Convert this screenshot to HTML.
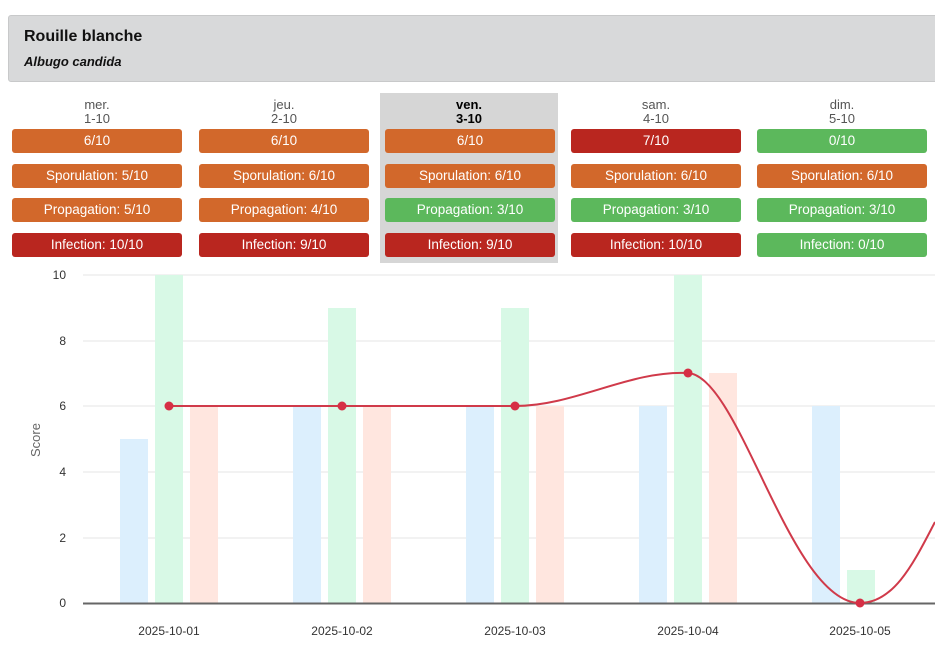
<!DOCTYPE html><html><head><style>
body{margin:0;width:935px;height:648px;overflow:hidden;background:#fff;font-family:"Liberation Sans",Arial,sans-serif;position:relative}
.hdr{position:absolute;left:8px;top:15px;width:940px;height:65px;background:#d8d9da;border:1px solid #c8c9ca;border-radius:3px}
.hdr b{position:absolute;left:15px;top:12px;font-size:16px;color:#111}
.hdr i{position:absolute;left:15px;top:38px;font-size:13px;font-weight:bold;color:#111}
.col{position:absolute;top:93px;width:178px;height:170px}
.col.sel{background:#d6d6d6}
.d{text-align:center;font-size:13px;color:#555;line-height:14px;margin-top:5px}
.sel .d{color:#000;font-weight:bold}
.bd{position:absolute;left:4px;width:170px;height:24px;border-radius:3px;color:#fff;font-size:13.5px;text-align:center;line-height:24px}
.o{background:#d2682b}.r{background:#b9261f}.g{background:#5cb85c}
</style></head><body>
<div class="hdr"><b>Rouille blanche</b><i>Albugo candida</i></div>
<div class="col" style="left:8px"><div class="d">mer.<br>1-10</div>
<div class="bd o" style="top:36px">6/10</div><div class="bd o" style="top:71px">Sporulation: 5/10</div><div class="bd o" style="top:105px">Propagation: 5/10</div><div class="bd r" style="top:140px">Infection: 10/10</div></div>
<div class="col" style="left:195px"><div class="d">jeu.<br>2-10</div>
<div class="bd o" style="top:36px">6/10</div><div class="bd o" style="top:71px">Sporulation: 6/10</div><div class="bd o" style="top:105px">Propagation: 4/10</div><div class="bd r" style="top:140px">Infection: 9/10</div></div>
<div class="col sel" style="left:380px"><div class="d">ven.<br>3-10</div>
<div class="bd o" style="top:36px;left:5px">6/10</div><div class="bd o" style="top:71px;left:5px">Sporulation: 6/10</div><div class="bd g" style="top:105px;left:5px">Propagation: 3/10</div><div class="bd r" style="top:140px;left:5px">Infection: 9/10</div></div>
<div class="col" style="left:567px"><div class="d">sam.<br>4-10</div>
<div class="bd r" style="top:36px">7/10</div><div class="bd o" style="top:71px">Sporulation: 6/10</div><div class="bd g" style="top:105px">Propagation: 3/10</div><div class="bd r" style="top:140px">Infection: 10/10</div></div>
<div class="col" style="left:753px"><div class="d">dim.<br>5-10</div>
<div class="bd g" style="top:36px">0/10</div><div class="bd o" style="top:71px">Sporulation: 6/10</div><div class="bd g" style="top:105px">Propagation: 3/10</div><div class="bd g" style="top:140px">Infection: 0/10</div></div>
<svg style="position:absolute;left:0;top:0" width="935" height="648" font-family="Liberation Sans,Arial,sans-serif">
<g stroke="#e6e6e6"><line x1="83" x2="935" y1="275" y2="275"/><line x1="83" x2="935" y1="341" y2="341"/><line x1="83" x2="935" y1="406" y2="406"/><line x1="83" x2="935" y1="472" y2="472"/><line x1="83" x2="935" y1="538" y2="538"/></g>
<g font-size="12" fill="#333" text-anchor="end"><text x="66" y="279">10</text><text x="66" y="345">8</text><text x="66" y="410">6</text><text x="66" y="476">4</text><text x="66" y="542">2</text><text x="66" y="607">0</text></g>
<text transform="translate(40,440) rotate(-90)" font-size="13" fill="#666" text-anchor="middle">Score</text>
<g fill="#dceffd"><rect x="120" y="439" width="28" height="164"/><rect x="293" y="406" width="28" height="197"/><rect x="466" y="406" width="28" height="197"/><rect x="639" y="406" width="28" height="197"/><rect x="812" y="406" width="28" height="197"/></g>
<g fill="#d8f9e6"><rect x="155" y="275" width="28" height="328"/><rect x="328" y="308" width="28" height="295"/><rect x="501" y="308" width="28" height="295"/><rect x="674" y="275" width="28" height="328"/><rect x="847" y="570" width="28" height="33"/></g>
<g fill="#ffe6df"><rect x="190" y="406" width="28" height="197"/><rect x="363" y="406" width="28" height="197"/><rect x="536" y="406" width="28" height="197"/><rect x="709" y="373" width="28" height="230"/></g>
<line x1="83" x2="935" y1="603.5" y2="603.5" stroke="#666" stroke-width="2"/>
<path d="M169,406 L515,406 C575,406 630,370 688,373 C740,376 790,603 860,603 C895,603 915,560 935,522" fill="none" stroke="#d03a4a" stroke-width="2"/>
<g fill="#d62f45"><circle cx="169" cy="406" r="4.5"/><circle cx="342" cy="406" r="4.5"/><circle cx="515" cy="406" r="4.5"/><circle cx="688" cy="373" r="4.5"/><circle cx="860" cy="603" r="4.5"/></g>
<g font-size="12" fill="#333" text-anchor="middle"><text x="169" y="635">2025-10-01</text><text x="342" y="635">2025-10-02</text><text x="515" y="635">2025-10-03</text><text x="688" y="635">2025-10-04</text><text x="860" y="635">2025-10-05</text></g>
</svg>
</body></html>
